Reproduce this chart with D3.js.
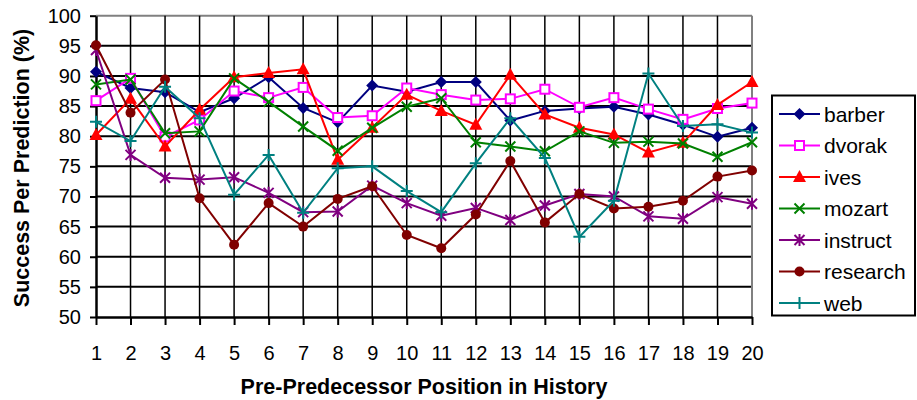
<!DOCTYPE html>
<html>
<head>
<meta charset="utf-8">
<script src="https://cdn.jsdelivr.net/npm/d3@7"></script>
<style>
  body { margin: 0; background: #fff; }
  svg { font-family: "Liberation Sans", Arial, sans-serif; }
</style>
</head>
<body>
<svg id="chart" width="917" height="400"></svg>
<script>
'use strict';

// data
var positions = d3.range(1, 21);
var yTicks = [50, 55, 60, 65, 70, 75, 80, 85, 90, 95, 100];

var barber   = [90.7, 88.0, 87.3, 84.0, 86.3, 89.8, 84.7, 82.3, 88.4, 87.4, 89.0, 89.0, 82.6, 84.2, 84.6, 84.9, 83.6, 81.9, 79.9, 81.4];
var dvorak   = [85.9, 89.6, 79.9, 82.7, 87.5, 86.4, 88.1, 83.1, 83.4, 88.0, 86.9, 86.0, 86.2, 87.8, 84.8, 86.4, 84.5, 82.8, 84.6, 85.5];
var ives     = [80.2, 86.2, 78.3, 84.4, 89.8, 90.5, 91.1, 76.1, 81.4, 86.9, 84.2, 81.9, 90.2, 83.6, 81.4, 80.3, 77.3, 78.9, 85.2, 89.0];
var mozart   = [88.6, 89.4, 80.5, 80.8, 89.6, 85.7, 81.6, 77.6, 81.4, 84.9, 86.3, 79.0, 78.3, 77.5, 80.8, 78.9, 79.1, 78.8, 76.6, 79.0];
var instruct = [94.3, 76.9, 73.1, 72.8, 73.2, 70.6, 67.4, 67.5, 71.8, 68.9, 66.8, 68.1, 66.1, 68.5, 70.4, 70.0, 66.7, 66.3, 69.9, 68.8];
var research = [95.1, 83.9, 89.4, 69.7, 62.0, 68.9, 65.0, 69.6, 71.7, 63.6, 61.4, 67.0, 75.9, 65.7, 70.4, 68.0, 68.3, 69.3, 73.3, 74.3];
var web      = [82.4, 79.2, 88.2, 83.0, 70.3, 76.9, 67.3, 74.7, 75.0, 70.9, 67.4, 75.5, 83.0, 76.4, 63.3, 69.3, 90.4, 81.7, 82.0, 80.6];

var seriesNames = ['barber', 'dvorak', 'ives', 'mozart', 'instruct', 'research', 'web'];
var seriesData = [barber, dvorak, ives, mozart, instruct, research, web];
var seriesColors = ['#000080', '#ff00ff', '#ff0000', '#008000', '#800080', '#800000', '#008080'];
var seriesMarkers = ['diamond', 'square', 'triangle', 'x', 'star', 'circle', 'plus'];

var svg = d3.select('#chart');

var x = d3.scaleLinear().domain([1, 20]).range([96, 752]);
var y = d3.scaleLinear().domain([50, 100]).range([317, 15.7]);

// grid
var grid = svg.append('g');
grid.selectAll('.hgrid')
    .data(yTicks.filter(function (d) { return d > 50; }))
    .enter()
    .append('line')
    .attr('x1', x(1)).attr('x2', x(20))
    .attr('y1', function (d) { return y(d); })
    .attr('y2', function (d) { return y(d); })
    .attr('stroke', function (d) { return d === 100 ? '#808080' : '#000'; })
    .attr('stroke-width', 2);

grid.selectAll('.vgrid')
    .data(positions.filter(function (d) { return d > 1; }))
    .enter()
    .append('line')
    .attr('x1', function (d) { return x(d); })
    .attr('x2', function (d) { return x(d); })
    .attr('y1', y(100)).attr('y2', y(50))
    .attr('stroke', function (d) { return d === 20 ? '#808080' : '#000'; })
    .attr('stroke-width', function (d) { return d === 20 ? 2 : 1.5; });

// axes
var xAxis = d3.axisBottom(x).tickValues(positions).tickSize(8).tickPadding(21).tickSizeOuter(0);
var yAxis = d3.axisLeft(y).tickValues(yTicks).tickSize(6).tickPadding(9).tickSizeOuter(0);

var gx = svg.append('g').attr('transform', 'translate(0,' + y(50) + ')').call(xAxis);
var gy = svg.append('g').attr('transform', 'translate(' + x(1) + ',0)').call(yAxis);

[gx, gy].forEach(function (g) {
    g.select('.domain').attr('stroke', '#000').attr('stroke-width', 2.5);
    g.selectAll('.tick line').attr('stroke', '#000').attr('stroke-width', 2);
    g.selectAll('.tick text').attr('fill', '#000').style('font-size', '20px');
});

// axis titles
svg.append('text')
    .attr('x', 424).attr('y', 394)
    .attr('text-anchor', 'middle')
    .style('font-size', '21.5px').style('font-weight', 'bold')
    .text('Pre-Predecessor Position in History');

svg.append('text')
    .attr('transform', 'translate(29,168) rotate(-90)')
    .attr('text-anchor', 'middle')
    .style('font-size', '21.5px').style('font-weight', 'bold')
    .text('Success Per Prediction (%)');

function drawMarker(g, type, color, cx, cy) {
    if (type === 'diamond') {
        g.append('path')
            .attr('d', 'M' + cx + ',' + (cy - 6) + 'L' + (cx + 6) + ',' + cy + 'L' + cx + ',' + (cy + 6) + 'L' + (cx - 6) + ',' + cy + 'Z')
            .attr('fill', color);
    } else if (type === 'square') {
        g.append('rect')
            .attr('x', cx - 4.5).attr('y', cy - 4.5)
            .attr('width', 9).attr('height', 9)
            .attr('fill', '#fff').attr('stroke', color).attr('stroke-width', 2);
    } else if (type === 'triangle') {
        g.append('path')
            .attr('d', 'M' + cx + ',' + (cy - 7) + 'L' + (cx + 6.5) + ',' + (cy + 5) + 'L' + (cx - 6.5) + ',' + (cy + 5) + 'Z')
            .attr('fill', color);
    } else if (type === 'circle') {
        g.append('circle')
            .attr('cx', cx).attr('cy', cy).attr('r', 5)
            .attr('fill', color);
    } else {
        var d = '';
        if (type === 'x' || type === 'star') {
            d += 'M' + (cx - 5) + ',' + (cy - 5) + 'L' + (cx + 5) + ',' + (cy + 5);
            d += 'M' + (cx - 5) + ',' + (cy + 5) + 'L' + (cx + 5) + ',' + (cy - 5);
        }
        if (type === 'star') {
            d += 'M' + cx + ',' + (cy - 6) + 'L' + cx + ',' + (cy + 6);
        }
        if (type === 'plus') {
            d += 'M' + (cx - 6) + ',' + cy + 'L' + (cx + 6) + ',' + cy;
            d += 'M' + cx + ',' + (cy - 6) + 'L' + cx + ',' + (cy + 6);
        }
        g.append('path').attr('d', d)
            .attr('fill', 'none').attr('stroke', color).attr('stroke-width', 2);
    }
}

// series
var line = d3.line()
    .x(function (d, i) { return x(positions[i]); })
    .y(function (d) { return y(d); });

seriesData.forEach(function (values, s) {
    var g = svg.append('g');
    g.append('path')
        .attr('d', line(values))
        .attr('fill', 'none')
        .attr('stroke', seriesColors[s])
        .attr('stroke-width', 2);
    values.forEach(function (v, i) {
        drawMarker(g, seriesMarkers[s], seriesColors[s], x(positions[i]), y(v));
    });
});

// legend
var legend = svg.append('g');
legend.append('rect')
    .attr('x', 772).attr('y', 95.5)
    .attr('width', 143).attr('height', 220)
    .attr('fill', '#fff').attr('stroke', '#000').attr('stroke-width', 2);

seriesNames.forEach(function (name, s) {
    var ly = 114 + s * 31.5;
    var g = legend.append('g');
    g.append('line')
        .attr('x1', 779).attr('x2', 820)
        .attr('y1', ly).attr('y2', ly)
        .attr('stroke', seriesColors[s]).attr('stroke-width', 2);
    drawMarker(g, seriesMarkers[s], seriesColors[s], 799.5, ly);
    g.append('text')
        .attr('x', 824).attr('y', ly + 7.5)
        .style('font-size', '21px')
        .text(name);
});
</script>
</body>
</html>
